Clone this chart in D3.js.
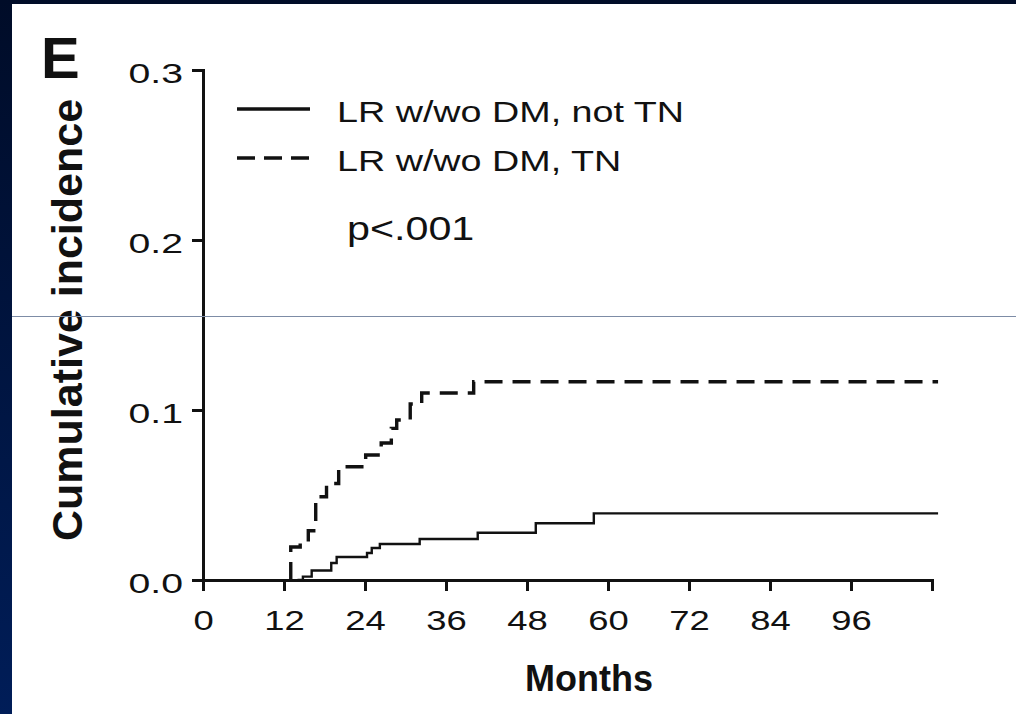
<!DOCTYPE html>
<html lang="en">
<head>
  <meta charset="UTF-8">
  <title>Cumulative incidence</title>
  <script src="https://d3js.org/d3.v7.min.js"></script>
  <style>
    body {
      margin: 0;
      background: #fff;
    }
    svg text {
      font-family: "Liberation Sans", Arial, Helvetica, sans-serif;
      fill: #111;
    }
  </style>
</head>
<body>
  <svg id="chart" width="1016" height="714"></svg>

  <script>
    // step curves (months, cumulative incidence)
    const notTnMonths = [14.0, 14.8, 16.1, 19.0, 19.8, 24.3, 25.0, 26.2, 32.1, 40.7, 49.3, 57.9, 108.9];
    const notTnValues = [0, 0.002, 0.0056, 0.010, 0.0135, 0.0159, 0.0188, 0.0212, 0.0241, 0.0278, 0.0334, 0.0392, 0.0392];

    const tnMonths = [13.0, 13.0, 14.4, 15.6, 16.7, 18.3, 20.1, 24.1, 26.4, 27.9, 28.7, 30.7, 32.4, 40.1, 108.9];
    const tnValues = [0, 0.0194, 0.0226, 0.029, 0.049, 0.0568, 0.0666, 0.0735, 0.0806, 0.0892, 0.0941, 0.1035, 0.110, 0.1166, 0.1166];

    const xTicks = [0, 12, 24, 36, 48, 60, 72, 84, 96, 108];
    const xTickLabels = ["0", "12", "24", "36", "48", "60", "72", "84", "96", ""];
    const yTicks = [0, 0.1, 0.2, 0.3];

    const seriesNames = ["LR w/wo DM, not TN", "LR w/wo DM, TN"];

    const svg = d3.select("#chart");

    // slide background
    const grad = svg.append("defs").append("linearGradient")
      .attr("id", "navy").attr("x1", 0).attr("y1", 0).attr("x2", 0).attr("y2", 1);
    grad.append("stop").attr("offset", "0%").attr("stop-color", "#000c28");
    grad.append("stop").attr("offset", "100%").attr("stop-color", "#001d58");

    svg.append("rect").attr("width", 1016).attr("height", 714).attr("fill", "url(#navy)");
    svg.append("rect").attr("x", 12).attr("y", 4).attr("width", 1004).attr("height", 710).attr("fill", "#fff");

    const x = d3.scaleLinear().domain([0, 108]).range([203, 932]);
    const y = d3.scaleLinear().domain([0, 0.3]).range([580, 70]);

    // stretch text horizontally, the figure was scaled wider
    function stretch(sel, k) {
      sel.each(function() {
        const len = this.getComputedTextLength();
        d3.select(this).attr("textLength", len * k).attr("lengthAdjust", "spacingAndGlyphs");
      });
    }

    // axes
    const xAxis = svg.append("g")
      .attr("transform", `translate(0,${y(0)})`)
      .call(d3.axisBottom(x).tickValues(xTicks).tickSize(11).tickSizeOuter(0).tickPadding(19)
        .tickFormat((d, i) => xTickLabels[i]));

    const yAxis = svg.append("g")
      .attr("transform", `translate(${x(0)},0)`)
      .call(d3.axisLeft(y).tickValues(yTicks).tickSize(11).tickSizeOuter(0).tickPadding(9)
        .tickFormat(d3.format(".1f")));

    [xAxis, yAxis].forEach(g => {
      g.select(".domain").attr("stroke", "#111").attr("stroke-width", 3).attr("stroke-linecap", "square");
      g.selectAll(".tick line").attr("stroke", "#111").attr("stroke-width", 3);
      g.selectAll(".tick text").attr("font-size", 28).attr("fill", "#111");
    });
    xAxis.selectAll(".tick text").attr("dy", "0.72em");
    yAxis.selectAll(".tick text").attr("dy", "0.45em");
    stretch(xAxis.selectAll(".tick text"), 1.3);
    stretch(yAxis.selectAll(".tick text"), 1.4);

    // curves
    const line = d3.line()
      .x(d => x(d[0]))
      .y(d => y(d[1]))
      .curve(d3.curveStepAfter);

    svg.append("path")
      .datum(d3.zip(notTnMonths, notTnValues))
      .attr("d", line)
      .attr("fill", "none")
      .attr("stroke", "#111")
      .attr("stroke-width", 2.4);

    svg.append("path")
      .datum(d3.zip(tnMonths, tnValues))
      .attr("d", line)
      .attr("fill", "none")
      .attr("stroke", "#111")
      .attr("stroke-width", 3.4)
      .attr("stroke-dasharray", "18,10");

    // legend
    const legend = svg.append("g");
    const legendRows = [109, 158];
    seriesNames.forEach((name, i) => {
      legend.append("line")
        .attr("x1", 237).attr("x2", 310)
        .attr("y1", legendRows[i]).attr("y2", legendRows[i])
        .attr("stroke", "#111")
        .attr("stroke-width", i === 0 ? 3.6 : 3.4)
        .attr("stroke-dasharray", i === 0 ? null : "18,9");
      legend.append("text")
        .attr("class", "legend-label")
        .attr("x", 337)
        .attr("y", legendRows[i] + 13)
        .attr("font-size", 29)
        .text(name);
    });
    stretch(legend.selectAll(".legend-label"), 1.3);

    const pText = svg.append("text")
      .attr("x", 347).attr("y", 240)
      .attr("font-size", 33)
      .text("p<.001");
    stretch(pText, 1.25);

    // titles
    svg.append("text")
      .attr("transform", "translate(82,320) rotate(-90)")
      .attr("text-anchor", "middle")
      .attr("font-size", 43)
      .attr("font-weight", "bold")
      .text("Cumulative incidence");

    svg.append("text")
      .attr("x", 589).attr("y", 691)
      .attr("text-anchor", "middle")
      .attr("font-size", 36)
      .attr("font-weight", "bold")
      .text("Months");

    svg.append("text")
      .attr("x", 41).attr("y", 78)
      .attr("font-size", 58)
      .attr("font-weight", "bold")
      .text("E");

    // thin grey rule across the slide
    svg.append("line")
      .attr("x1", 12).attr("x2", 1016)
      .attr("y1", 316.5).attr("y2", 316.5)
      .attr("stroke", "#7d8ca6")
      .attr("stroke-width", 1.2);
  </script>
</body>
</html>
